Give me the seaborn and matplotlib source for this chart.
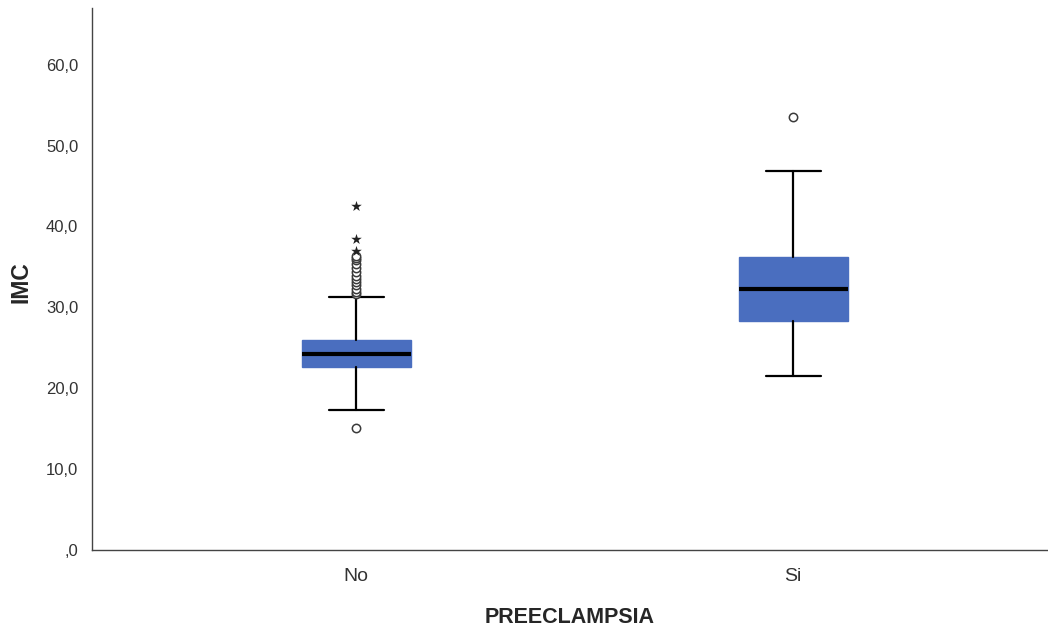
import matplotlib
matplotlib.use("Agg")
import matplotlib.pyplot as plt
import matplotlib.ticker as mticker
import pandas as pd
import seaborn as sns

# summary values (IMC by PREECLAMPSIA)
groups = ["No", "Si"]
whisker_low = [17.3, 21.5]
q1 = [22.6, 28.3]
median = [24.2, 32.2]
q3 = [26.0, 36.2]
whisker_high = [31.3, 46.8]

# outliers (circles) and extreme values (stars)
outliers_no = [15.1, 31.6, 31.9, 32.3, 32.7, 33.1, 33.5, 33.9, 34.3, 34.8,
               35.3, 35.8, 36.1, 36.4]
outliers_si = [53.5]
extremes_no = [36.9, 38.4, 42.5]

BOX_COLOR = "#4a6ebf"

sns.set_style("white")
plt.rcParams["font.family"] = ["Liberation Sans", "DejaVu Sans"]

fig = plt.figure(figsize=(10.48, 6.29), dpi=100)
ax = fig.add_axes([0.088, 0.126, 0.912, 0.861])

stats = [
    {"label": g, "whislo": lo, "q1": a, "med": m, "q3": b, "whishi": hi}
    for g, lo, a, m, b, hi in zip(groups, whisker_low, q1, median, q3, whisker_high)
]
ax.bxp(
    stats,
    positions=range(len(groups)),
    widths=0.25,
    showfliers=False,
    patch_artist=True,
    boxprops={"facecolor": BOX_COLOR, "edgecolor": BOX_COLOR, "linewidth": 1},
    medianprops={"color": "black", "linewidth": 3},
    whiskerprops={"color": "black", "linewidth": 1.6},
    capprops={"color": "black", "linewidth": 1.6},
    capwidths=0.125,
)

circles = pd.DataFrame({
    "PREECLAMPSIA": ["No"] * len(outliers_no) + ["Si"] * len(outliers_si),
    "IMC": outliers_no + outliers_si,
})
stars = pd.DataFrame({"PREECLAMPSIA": ["No"] * len(extremes_no), "IMC": extremes_no})

sns.stripplot(data=circles, x="PREECLAMPSIA", y="IMC", order=groups, jitter=False,
              marker="o", size=6, color="white", edgecolor="#3a3a3a",
              linewidth=1.1, ax=ax, zorder=4)
sns.stripplot(data=stars, x="PREECLAMPSIA", y="IMC", order=groups, jitter=False,
              marker="*", size=8, color="#222222", ax=ax, zorder=4)

ax.set_xlim(-0.604, 1.583)
ax.set_ylim(0, 67)
ax.set_yticks([0, 10, 20, 30, 40, 50, 60])
ax.yaxis.set_major_formatter(mticker.FuncFormatter(
    lambda v, _: ",0" if v == 0 else f"{v:.1f}".replace(".", ",")))
ax.set_xticks([0, 1])
ax.set_xticklabels(groups)
ax.tick_params(axis="both", length=0)
ax.tick_params(axis="y", labelsize=12, labelcolor="#333333", pad=10)
ax.tick_params(axis="x", labelsize=14, labelcolor="#333333", pad=13)

ax.set_xlabel("PREECLAMPSIA", fontsize=15.5, fontweight="bold", labelpad=16)
ax.set_ylabel("IMC", fontsize=16.5, fontweight="bold")
ax.yaxis.set_label_coords(-0.062, 0.494)

sns.despine(ax=ax)
for side in ["left", "bottom"]:
    ax.spines[side].set_color("#444444")
    ax.spines[side].set_linewidth(1)

fig.savefig("out.png", dpi=100)
